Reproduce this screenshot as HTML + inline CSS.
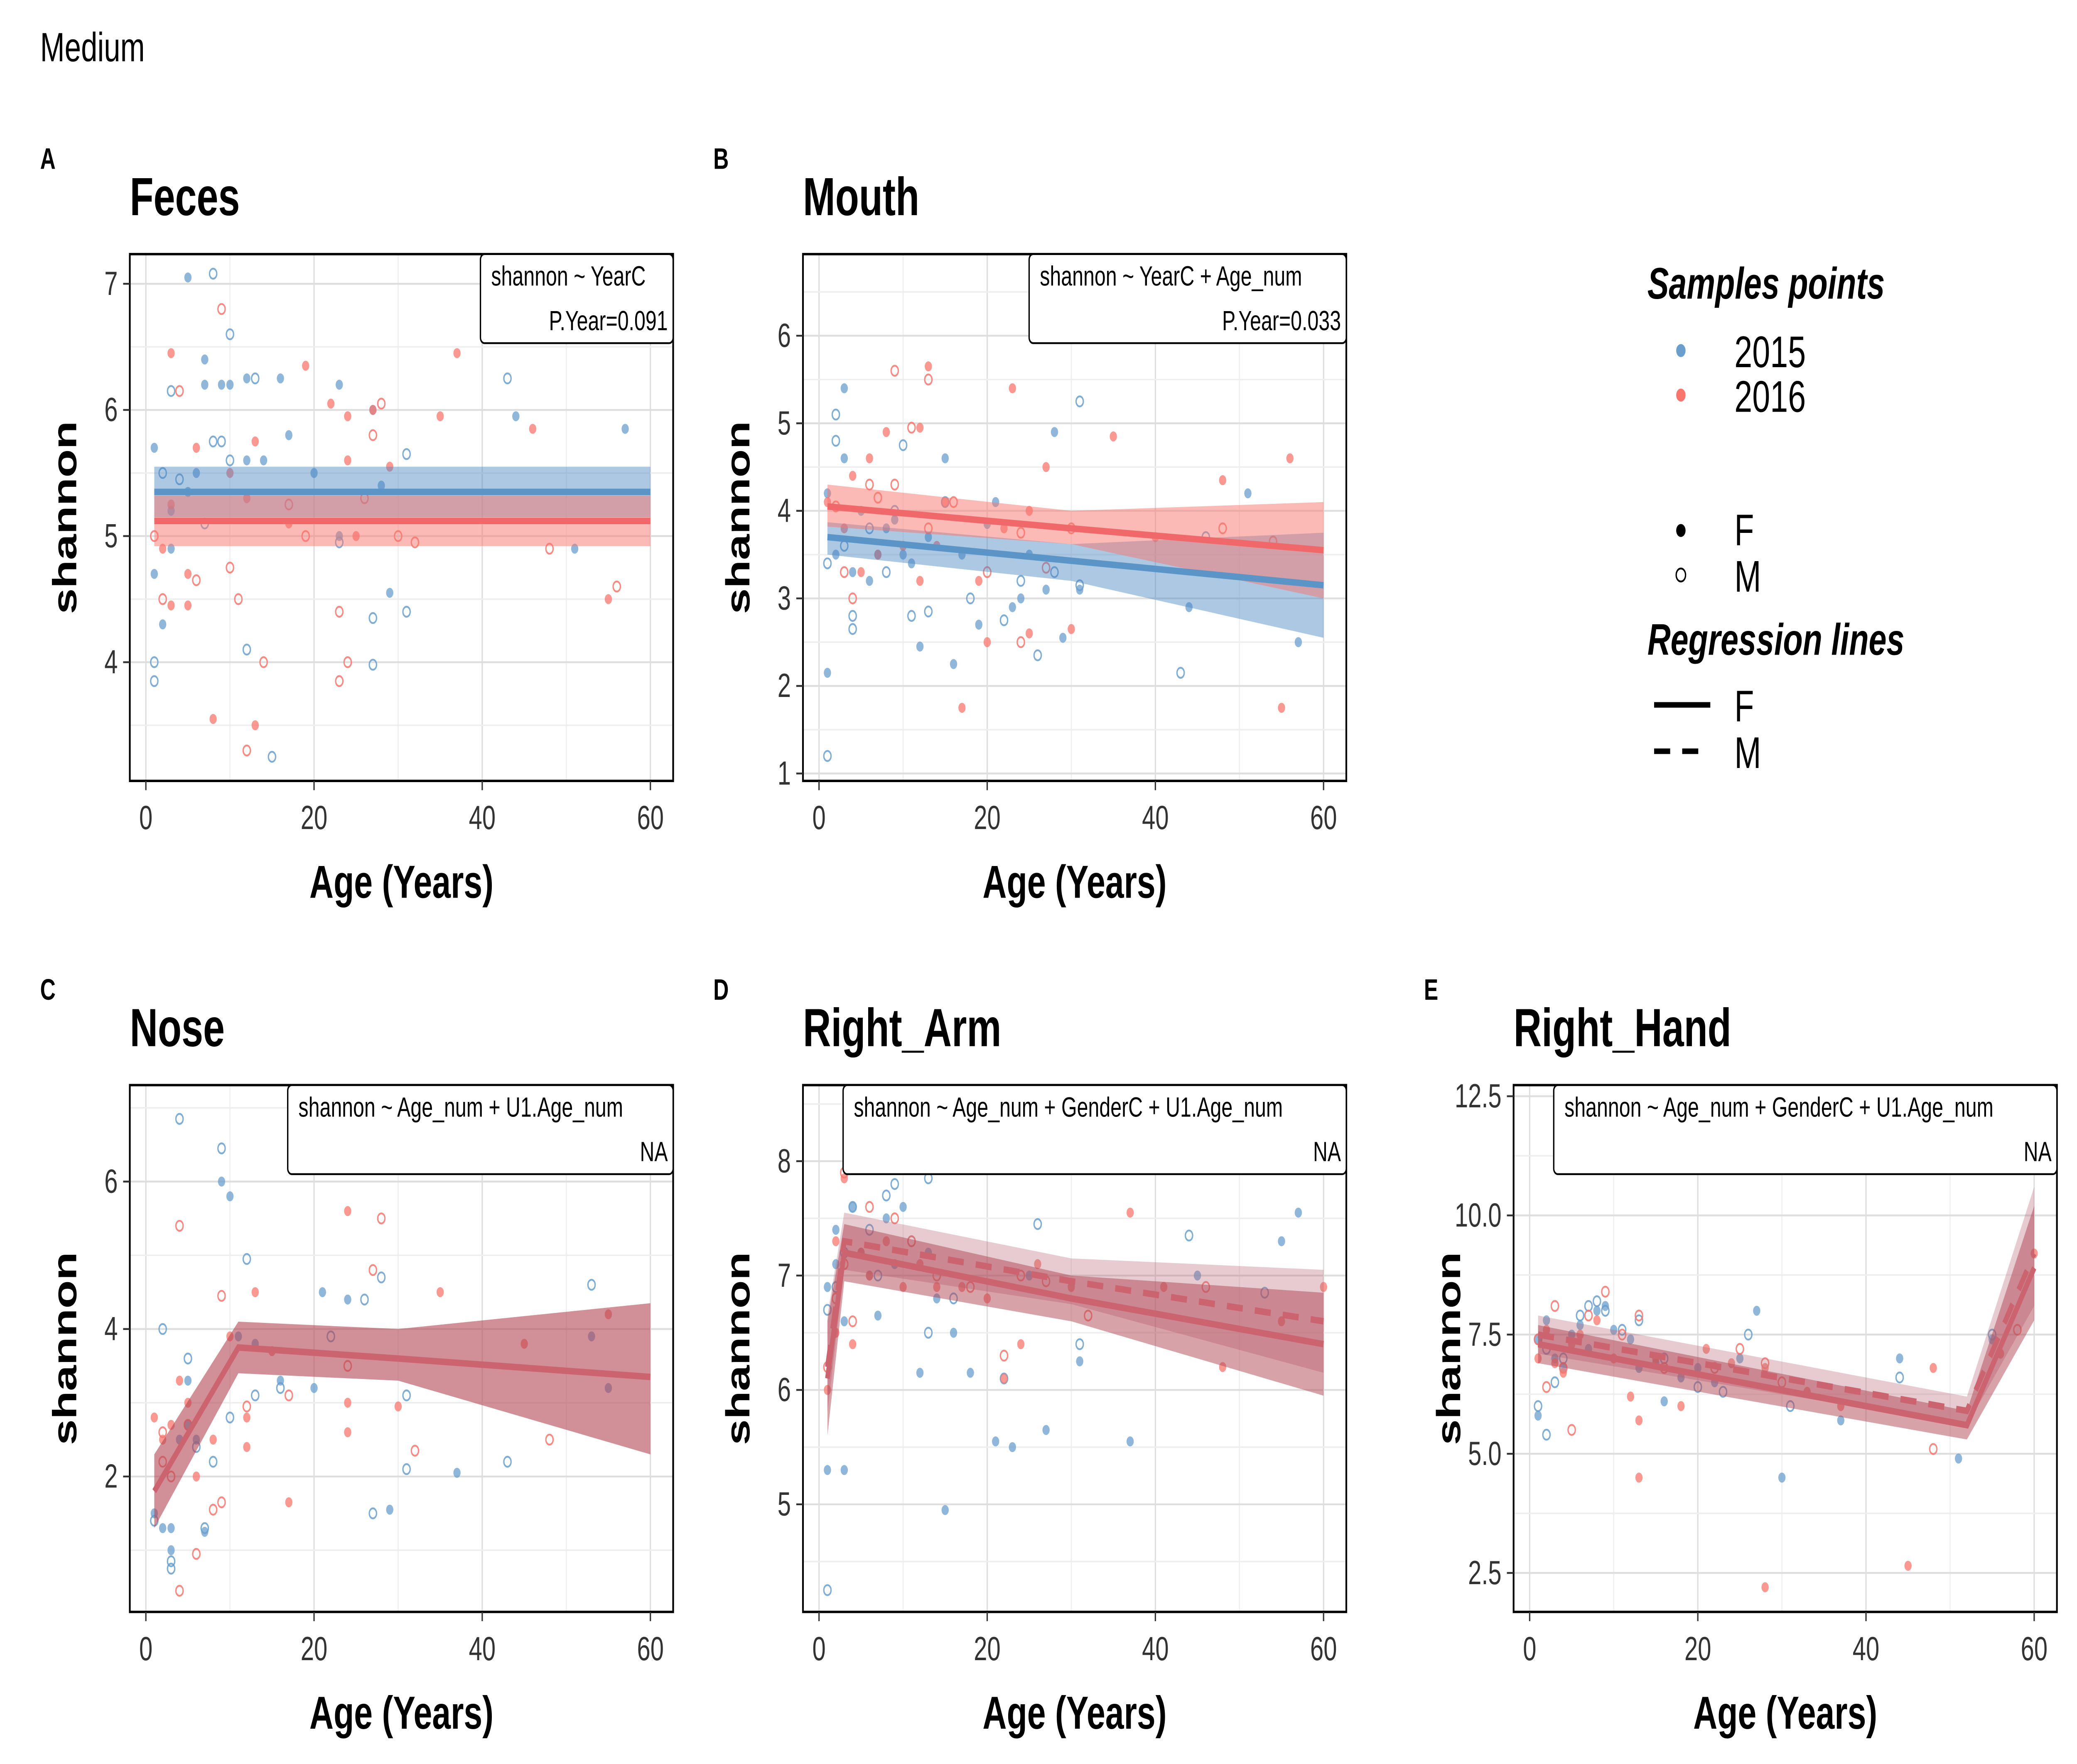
<!DOCTYPE html>
<html><head><meta charset="utf-8"><style>
html,body{margin:0;padding:0;background:#fff;width:100vw;height:100vh;overflow:hidden}
svg{display:block;font-family:"Liberation Sans",Arial,sans-serif;width:100vw;height:100vh}
</style></head><body>
<svg id="chart" xmlns="http://www.w3.org/2000/svg" viewBox="0 0 1552 951" preserveAspectRatio="none">
<rect x="0" y="0" width="1552" height="951" fill="#fff"/>
<text x="30" y="33" font-size="22">Medium</text>
<g>
<text x="1231" y="161" font-size="24" font-weight="bold" font-style="italic">Samples points</text>
<circle cx="1256" cy="189" r="3.5" fill="#6a9fcd"/>
<text x="1296" y="198" font-size="24">2015</text>
<circle cx="1256" cy="213" r="3.5" fill="#f8766d"/>
<text x="1296" y="222" font-size="24">2016</text>
<circle cx="1256" cy="286" r="3.5" fill="#000"/>
<text x="1296" y="294" font-size="24">F</text>
<circle cx="1256" cy="310" r="3.5" fill="none" stroke="#000" stroke-width="1"/>
<text x="1296" y="319" font-size="24">M</text>
<text x="1231" y="353" font-size="24" font-weight="bold" font-style="italic">Regression lines</text>
<line x1="1236" y1="380" x2="1278" y2="380" stroke="#000" stroke-width="3"/>
<text x="1296" y="389" font-size="24">F</text>
<line x1="1236" y1="405" x2="1278" y2="405" stroke="#000" stroke-width="3" stroke-dasharray="12,9"/>
<text x="1296" y="414" font-size="24">M</text>
</g>
</svg>
<script>
// ---- data (age, shannon) per panel/group ----
const feces_b15F=[[1,5.7],[2,4.3],[3,5.2],[5,7.05],[6,5.5],[7,6.4],[7,6.2],[9,6.2],[10,6.2],[12,6.25],[12,5.6],[14,5.6],[16,6.25],[17,5.8],[20,5.5],[23,6.2],[23,5.0],[27,6.0],[29,4.55],[28,5.4],[44,5.95],[51,4.9],[57,5.85],[3,4.9],[5,5.35],[1,4.7]];
const feces_b15M=[[1,4.0],[2,5.5],[3,6.15],[4,5.45],[8,7.08],[8,5.75],[9,5.75],[10,6.6],[10,5.6],[13,6.25],[12,4.1],[15,3.25],[23,4.95],[27,3.98],[27,4.35],[31,5.65],[31,4.4],[43,6.25],[7,5.1],[1,3.85]];
const feces_r16F=[[3,6.45],[3,5.25],[5,4.7],[6,5.7],[8,3.55],[10,5.5],[12,5.3],[13,5.75],[13,3.5],[17,5.1],[19,6.35],[22,6.05],[24,5.6],[24,5.95],[25,5.0],[27,6.0],[29,5.55],[35,5.95],[37,6.45],[46,5.85],[55,4.5],[3,4.45],[5,4.45],[2,4.9]];
const feces_r16M=[[1,5.0],[2,4.5],[4,6.15],[6,4.65],[9,6.8],[10,4.75],[11,4.5],[12,3.3],[14,4.0],[19,5.0],[23,4.4],[23,3.85],[24,4.0],[26,5.3],[27,5.8],[28,6.05],[30,5.0],[32,4.95],[48,4.9],[56,4.6],[17,5.25]];
const mouth_b15F=[[1,4.2],[1,2.15],[2,3.5],[3,5.4],[3,4.6],[4,3.3],[5,4.0],[6,3.2],[7,3.5],[8,3.8],[9,3.9],[10,3.5],[11,3.4],[12,2.45],[13,3.7],[15,4.6],[16,2.25],[17,3.5],[19,2.7],[20,3.85],[21,4.1],[23,2.9],[24,3.0],[27,3.1],[28,4.9],[29,2.55],[31,3.1],[44,2.9],[51,4.2],[57,2.5],[25,3.5]];
const mouth_b15M=[[1,1.2],[1,3.4],[2,4.8],[2,5.1],[3,3.6],[4,2.65],[4,2.8],[6,3.8],[8,3.3],[9,4.0],[10,4.75],[11,2.8],[13,2.85],[15,4.1],[18,3.0],[22,2.75],[24,3.2],[26,2.35],[28,3.3],[31,5.25],[31,3.15],[43,2.15],[46,3.7]];
const mouth_r16F=[[1,4.1],[3,3.8],[4,4.4],[5,3.3],[6,4.6],[7,3.5],[8,4.9],[10,3.6],[12,4.95],[13,5.65],[14,3.6],[15,4.1],[17,1.75],[19,3.2],[20,2.5],[22,3.8],[23,5.4],[25,4.0],[25,2.6],[27,4.5],[30,2.65],[35,4.85],[40,3.7],[48,4.35],[55,1.75],[56,4.6],[12,3.2]];
const mouth_r16M=[[2,4.05],[4,3.0],[6,4.3],[7,4.15],[9,5.6],[9,4.3],[11,4.95],[13,5.5],[13,3.8],[16,4.1],[20,3.3],[24,3.75],[24,2.5],[27,3.35],[30,3.8],[48,3.8],[54,3.65],[3,3.3]];
const nose_b15F=[[1,1.5],[2,1.3],[3,1.3],[3,1.0],[4,2.5],[5,3.3],[6,2.5],[7,1.25],[9,6.0],[10,5.8],[11,3.9],[13,3.8],[16,3.3],[20,3.2],[21,4.5],[24,4.4],[29,1.55],[37,2.05],[53,3.9],[55,3.2],[5,2.7]];
const nose_b15M=[[1,1.4],[2,4.0],[3,0.75],[3,0.85],[4,6.85],[5,3.6],[6,2.4],[8,2.2],[9,6.45],[10,2.8],[12,4.95],[13,3.1],[16,3.2],[22,3.9],[26,4.4],[27,1.5],[28,4.7],[31,3.1],[31,2.1],[43,2.2],[53,4.6],[7,1.3]];
const nose_r16F=[[1,2.8],[2,2.5],[3,2.7],[4,3.3],[5,3.0],[6,2.0],[8,2.5],[10,3.9],[12,2.8],[13,4.5],[15,3.7],[17,1.65],[24,5.6],[24,3.0],[24,2.6],[30,2.95],[35,4.5],[45,3.8],[55,4.2],[12,2.4]];
const nose_r16M=[[2,2.2],[3,2.0],[4,5.4],[4,0.45],[5,2.7],[6,0.95],[8,1.55],[9,4.45],[9,1.65],[12,2.95],[17,3.1],[24,3.5],[27,4.8],[28,5.5],[32,2.35],[48,2.5],[2,2.6]];
const arm_b15F=[[1,5.3],[1,6.9],[2,7.4],[2,7.1],[3,6.6],[3,5.3],[4,7.6],[5,7.2],[6,7.0],[7,6.65],[8,7.5],[9,7.1],[10,7.6],[12,6.15],[13,7.2],[15,4.95],[16,6.5],[18,6.15],[21,5.55],[23,5.5],[25,7.0],[27,5.65],[31,6.25],[37,5.55],[45,7.0],[55,7.3],[57,7.55],[14,6.8]];
const arm_b15M=[[1,4.25],[1,6.7],[2,6.9],[3,7.2],[4,7.6],[6,7.4],[8,7.7],[9,7.8],[11,7.3],[13,7.85],[13,6.5],[16,6.8],[22,6.1],[26,7.45],[31,6.4],[44,7.35],[53,6.85],[7,7.0]];
const arm_r16F=[[1,6.0],[2,6.5],[2,7.3],[3,7.85],[4,6.4],[5,7.2],[6,7.0],[8,7.3],[10,6.9],[12,7.1],[14,6.9],[17,6.9],[20,6.8],[22,6.1],[24,6.4],[26,7.1],[30,6.9],[37,7.55],[41,6.9],[48,6.2],[55,6.6],[60,6.9]];
const arm_r16M=[[1,6.2],[2,6.8],[3,7.9],[4,6.6],[6,7.6],[9,7.5],[11,7.3],[14,7.0],[18,6.9],[22,6.3],[24,7.0],[27,6.95],[32,6.65],[46,6.9],[3,7.1]];
const hand_b15F=[[1,5.8],[1,7.4],[2,7.8],[3,7.0],[4,6.8],[5,7.5],[6,7.7],[7,7.2],[8,8.0],[9,8.1],[10,7.6],[12,7.4],[13,6.8],[15,6.9],[16,6.1],[18,6.6],[20,6.8],[22,6.5],[25,7.0],[27,8.0],[30,4.5],[37,5.7],[44,7.0],[51,4.9],[55,7.4]];
const hand_b15M=[[1,6.0],[1,7.4],[2,5.4],[2,7.2],[3,6.5],[4,7.0],[6,7.9],[7,8.1],[8,8.2],[9,8.0],[11,7.6],[13,7.8],[16,7.0],[20,6.4],[23,6.3],[26,7.5],[31,6.0],[44,6.6],[55,7.5]];
const hand_r16F=[[1,7.0],[2,7.6],[3,6.9],[4,6.7],[5,7.3],[6,7.5],[8,7.8],[10,7.0],[12,6.2],[13,5.7],[13,4.5],[15,7.0],[18,6.0],[21,7.2],[24,6.9],[28,2.2],[28,6.8],[33,6.3],[37,6.0],[45,2.65],[48,6.8],[56,7.1],[60,9.2]];
const hand_r16M=[[1,7.4],[2,6.4],[3,8.1],[4,6.8],[5,5.5],[7,7.9],[9,8.4],[11,7.5],[13,7.9],[16,6.8],[22,6.8],[25,7.2],[28,6.9],[30,6.5],[48,5.1],[58,7.6]];
// ---- fits: [age, fit, lo, hi] ----
const feces_fit2015=[[1,5.35,5.15,5.55],[60,5.35,5.15,5.55]];
const feces_fit2016=[[1,5.12,4.92,5.32],[60,5.12,4.92,5.32]];
const mouth_fit2015=[[1,3.7,3.5,3.87],[30,3.43,3.2,3.62],[60,3.15,2.55,3.75]];
const mouth_fit2016=[[1,4.05,3.82,4.3],[30,3.8,3.62,4.0],[60,3.55,3.0,4.1]];
const nose_fitF=[[1,1.8,1.3,2.3],[11,3.75,3.4,4.1],[30,3.6,3.3,4.0],[60,3.35,2.3,4.35]];
const arm_fitF=[[1,6.1,5.6,6.6],[3,7.2,6.95,7.45],[30,6.8,6.6,7.0],[60,6.4,5.95,6.85]];
const arm_fitM=[[1,6.2,5.8,6.65],[3,7.3,7.05,7.55],[30,6.95,6.75,7.15],[60,6.6,6.15,7.05]];
const hand_fitF=[[1,7.3,6.9,7.7],[52,5.6,5.3,5.9],[60,8.9,7.8,10.2]];
const hand_fitM=[[1,7.5,7.1,7.9],[52,5.9,5.6,6.2],[60,9.2,8.1,10.6]];
const xTicks=[0,20,40,60];

const NS="http://www.w3.org/2000/svg";
const svg=document.getElementById('chart');
function mk(tag,attrs,parent){const e=document.createElementNS(NS,tag);for(const k in attrs)e.setAttribute(k,attrs[k]);(parent||svg).appendChild(e);return e;}

function panel(cfg){
  const g=mk('g',{});
  
  
  const L=cfg.x0,R=cfg.x0+406,T=cfg.y0,B=cfg.y0+284;
  const xs=a=>cfg.x0+12+a*(377/60);
  const ys=v=>cfg.yRef+(cfg.yRefV-v)*cfg.ypu;
  const yMin=cfg.yRefV-(B-cfg.yRef)/cfg.ypu, yMax=cfg.yRefV+(cfg.yRef-T)/cfg.ypu;
  const lt=mk('text',{x:cfg.x0-67,y:T-46,'font-size':16,'font-weight':'bold'},g);lt.textContent=cfg.letter;
  
  
  const tt=mk('text',{x:cfg.x0,y:T-21,'font-size':29,'font-weight':'bold'},g);tt.textContent=cfg.title;
  
  
  const grid=mk('g',{},g);
  
  
  for(let a=-10;a<=70;a+=10){const x=xs(a);if(x<L||x>R)continue;mk('line',{x1:x,x2:x,y1:T,y2:B,stroke:a%20===0?'#dedede':'#eeeeee','stroke-width':a%20===0?1:0.8},grid);}
  const st=cfg.yStep/2;
  for(let v=Math.ceil(yMin/st)*st;v<=yMax;v+=st){const y=ys(v);const major=Math.abs(v/cfg.yStep-Math.round(v/cfg.yStep))<1e-6;mk('line',{x1:L,x2:R,y1:y,y2:y,stroke:major?'#dedede':'#eeeeee','stroke-width':major?1:0.8},grid);}
  function band(fit,color,op,name){
    let d='M'+fit.map(p=>xs(p[0])+','+ys(p[3])).join(' L')+' L'+fit.slice().reverse().map(p=>xs(p[0])+','+ys(p[2])).join(' L')+'Z';
    const b=mk('path',{d:d,fill:color,'fill-opacity':op},g);
    
    
  }
  function line(fit,color,dash,name){
    const l=mk('polyline',{points:fit.map(p=>xs(p[0])+','+ys(p[1])).join(' '),fill:'none',stroke:color,'stroke-width':3.5,'stroke-dasharray':dash||'none'},g);
    
    
  }
  const pts=mk('g',{},g);
  
  
  function dots(arr,color,filled,name){
    arr.forEach(p=>{
      if(p[1]<yMin||p[1]>yMax)return;
      const c=mk('circle',{cx:xs(p[0]),cy:ys(p[1]),r:2.7},pts);
      if(filled){c.setAttribute('fill',color);c.setAttribute('fill-opacity',0.75);}
      else{c.setAttribute('fill','none');c.setAttribute('stroke',color);c.setAttribute('stroke-width',1);c.setAttribute('stroke-opacity',0.85);}
      
      
    });
  }
  cfg.draw(band,line,dots);
  mk('rect',{x:L,y:T,width:406,height:284,fill:'none',stroke:'#000','stroke-width':1.3},g);
  xTicks.forEach(a=>{const x=xs(a);mk('line',{x1:x,x2:x,y1:B,y2:B+5,stroke:'#333'},g);
    const t=mk('text',{x:x,y:B+26,'font-size':18,'text-anchor':'middle',fill:'#333'},g);t.textContent=a;
    
    });
  cfg.yTicks.forEach(v=>{const y=ys(v);mk('line',{x1:L-5,x2:L,y1:y,y2:y,stroke:'#333'},g);
    const t=mk('text',{x:L-9,y:y+6,'font-size':18,'text-anchor':'end',fill:'#333'},g);t.textContent=cfg.yLab?cfg.yLab(v):v;
    
    });
  const xt=mk('text',{x:(L+R)/2,y:B+63,'font-size':25,'font-weight':'bold','text-anchor':'middle'},g);xt.textContent='Age (Years)';
  
  
  const yt=mk('text',{x:0,y:0,'font-size':25,'font-weight':'bold','text-anchor':'middle',transform:'translate('+(L-40)+','+((T+B)/2)+') rotate(-90)'},g);yt.textContent='shannon';
  
  
  const bx=mk('rect',{x:R-cfg.boxW,y:T,width:cfg.boxW,height:48,rx:3,fill:'#fff',stroke:'#000','stroke-width':1},g);
  
  
  const a1=mk('text',{x:R-cfg.boxW+8,y:T+17,'font-size':15},g);a1.textContent=cfg.f1;
  
  
  const a2=mk('text',{x:R-4,y:T+41,'font-size':15,'text-anchor':'end'},g);a2.textContent=cfg.f2;
  
  
}
const BLUE='#6a9fcd',RED='#f8766d',MIX='#cc6470';
panel({id:'feces',letter:'A',title:'Feces',x0:97,y0:137,yRef:153,yRefV:7,ypu:68,yStep:1,yTicks:[4,5,6,7],boxW:144,f1:'shannon ~ YearC',f2:'P.Year=0.091',
 draw:(band,line,dots)=>{band(feces_fit2015,'#4a86c0',0.45,'ci-band-2015');band(feces_fit2016,'#f8766d',0.5,'ci-band-2016');
  dots(feces_b15F,BLUE,true,'point-2015-f');dots(feces_b15M,BLUE,false,'point-2015-m');dots(feces_r16F,RED,true,'point-2016-f');dots(feces_r16M,RED,false,'point-2016-m');
  line(feces_fit2015,'#5b95c8',null,'fit-line-2015');line(feces_fit2016,'#f0686a',null,'fit-line-2016');}});
panel({id:'mouth',letter:'B',title:'Mouth',x0:600,y0:137,yRef:181,yRefV:6,ypu:47.2,yStep:1,yTicks:[1,2,3,4,5,6],boxW:237,f1:'shannon ~ YearC + Age_num',f2:'P.Year=0.033',
 draw:(band,line,dots)=>{band(mouth_fit2015,'#4a86c0',0.45,'ci-band-2015');band(mouth_fit2016,'#f8766d',0.5,'ci-band-2016');
  dots(mouth_b15F,BLUE,true,'point-2015-f');dots(mouth_b15M,BLUE,false,'point-2015-m');dots(mouth_r16F,RED,true,'point-2016-f');dots(mouth_r16M,RED,false,'point-2016-m');
  line(mouth_fit2015,'#5b95c8',null,'fit-line-2015');line(mouth_fit2016,'#f0686a',null,'fit-line-2016');}});
panel({id:'nose',letter:'C',title:'Nose',x0:97,y0:585,yRef:637,yRefV:6,ypu:39.75,yStep:2,yTicks:[2,4,6],boxW:288,f1:'shannon ~ Age_num + U1.Age_num',f2:'NA',
 draw:(band,line,dots)=>{band(nose_fitF,'#b24554',0.6,'ci-band-f');
  dots(nose_b15F,BLUE,true,'point-2015-f');dots(nose_b15M,BLUE,false,'point-2015-m');dots(nose_r16F,RED,true,'point-2016-f');dots(nose_r16M,RED,false,'point-2016-m');
  line(nose_fitF,MIX,null,'fit-line-f');}});
panel({id:'right-arm',letter:'D',title:'Right_Arm',x0:600,y0:585,yRef:626,yRefV:8,ypu:61.67,yStep:1,yTicks:[5,6,7,8],boxW:376,f1:'shannon ~ Age_num + GenderC + U1.Age_num',f2:'NA',
 draw:(band,line,dots)=>{band(arm_fitM,'#b86a78',0.35,'ci-band-m');band(arm_fitF,'#b24554',0.5,'ci-band-f');
  dots(arm_b15F,BLUE,true,'point-2015-f');dots(arm_b15M,BLUE,false,'point-2015-m');dots(arm_r16F,RED,true,'point-2016-f');dots(arm_r16M,RED,false,'point-2016-m');
  line(arm_fitF,MIX,null,'fit-line-f');line(arm_fitM,MIX,'12,9','fit-line-m');}});
panel({id:'right-hand',letter:'E',title:'Right_Hand',x0:1131,y0:585,yRef:591,yRefV:12.5,ypu:25.7,yStep:2.5,yTicks:[2.5,5,7.5,10,12.5],yLab:v=>v.toFixed(1),boxW:376,f1:'shannon ~ Age_num + GenderC + U1.Age_num',f2:'NA',
 draw:(band,line,dots)=>{band(hand_fitM,'#b86a78',0.35,'ci-band-m');band(hand_fitF,'#b24554',0.5,'ci-band-f');
  dots(hand_b15F,BLUE,true,'point-2015-f');dots(hand_b15M,BLUE,false,'point-2015-m');dots(hand_r16F,RED,true,'point-2016-f');dots(hand_r16M,RED,false,'point-2016-m');
  line(hand_fitF,MIX,null,'fit-line-f');line(hand_fitM,MIX,'12,9','fit-line-m');}});
</script>
</body></html>
